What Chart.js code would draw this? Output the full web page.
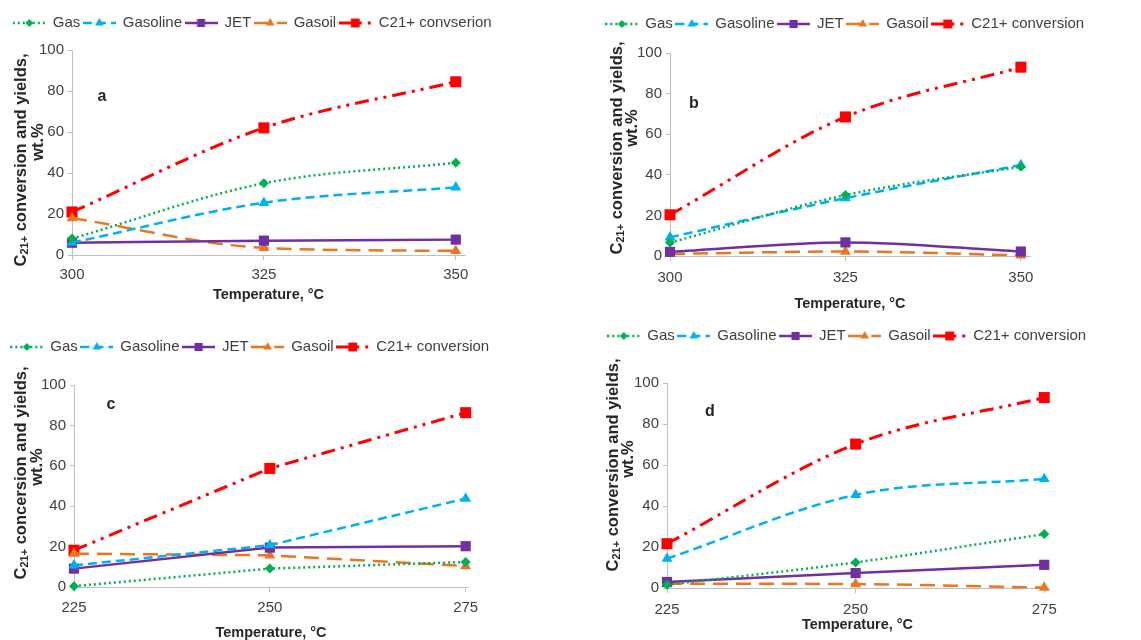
<!DOCTYPE html>
<html>
<head>
<meta charset="utf-8">
<script src="https://cdn.jsdelivr.net/npm/chart.js@4.4.1/dist/chart.umd.min.js"></script>
<style>
  body { margin: 0; background: #fff; width: 1141px; height: 640px; overflow: hidden; position: relative; }
  canvas { position: absolute; }
</style>
</head>
<body>
<canvas id="chartA" width="505" height="320" style="left:0;top:0"></canvas>
<canvas id="chartB" width="550" height="320" style="left:570px;top:0"></canvas>
<canvas id="chartC" width="500" height="330" style="left:0;top:320px"></canvas>
<canvas id="chartD" width="554" height="320" style="left:570px;top:320px"></canvas>
<script>
// temperatures (°C)
const tempsHigh = [300, 325, 350];
const tempsLow = [225, 250, 275];

// series names
const seriesNames = ["Gas", "Gasoline", "JET", "Gasoil"];
const convLabelA = "C21+ convserion";
const convLabel = "C21+ conversion";

// panel a, wt.%
const gasA = [8, 35, 45];
const gasolineA = [6, 25.5, 33];
const jetA = [6, 7, 7.5];
const gasoilA = [18, 3.5, 2];
const convA = [21, 62, 84.5];

// panel b
const gasB = [6.6, 30, 44];
const gasolineB = [9.2, 28.5, 44.8];
const jetB = [2, 6.7, 2.2];
const gasoilB = [1, 2.2, 0.3];
const convB = [20.3, 68.5, 93];

// panel c
const gasC = [0.4, 9.1, 12.4];
const gasolineC = [10.7, 20.7, 43.8];
const jetC = [9.1, 19.5, 20.2];
const gasoilC = [16.5, 15.7, 10.4];
const convC = [18.2, 58.7, 86.3];

// panel d
const gasD = [1.6, 12.5, 26.3];
const gasolineD = [14.3, 45.4, 53.2];
const jetD = [2.9, 7.3, 11.3];
const gasoilD = [2.1, 1.9, 0.2];
const convD = [21.6, 70.2, 92.9];

const yTicks = [0, 20, 40, 60, 80, 100];

const FONT = '"Liberation Sans", Arial, sans-serif';
const styles = [
  { color: "#00B050", dash: [2, 3], point: "rectRot", radius: 5, width: 2.5 },
  { color: "#00B0F0", dash: [9, 5], point: "triangle", radius: 6.3, width: 2.5 },
  { color: "#7030A0", dash: [], point: "rect", radius: 7.2, width: 2.5 },
  { color: "#E87722", dash: [15, 8], point: "triangle", radius: 6.3, width: 2.5 },
  { color: "#FF0000", dash: [14, 6, 3, 6, 3, 6], point: "rect", radius: 7.8, width: 3 },
];

function makeIcon(st) {
  const c = document.createElement("canvas");
  c.width = 33; c.height = 16;
  const g = c.getContext("2d");
  g.strokeStyle = st.color;
  g.lineWidth = st.width;
  g.setLineDash(st.dash);
  g.beginPath(); g.moveTo(0, 8); g.lineTo(33, 8); g.stroke();
  g.setLineDash([]);
  g.fillStyle = st.color;
  Chart.helpers.drawPoint(g, { pointStyle: st.point, radius: st.radius * 0.8, rotation: 0, borderWidth: 0 }, 16.5, 8);
  return c;
}
const icons = styles.map(makeIcon);

// letter and rotated y title, drawn on top
const panelText = {
  id: "panelText",
  afterDraw(chart, args, o) {
    const ctx = chart.ctx;
    ctx.save();
    ctx.fillStyle = "#262626";
    ctx.textBaseline = "middle";
    ctx.textAlign = "center";
    ctx.font = "bold 16px " + FONT;
    ctx.fillText(o.letter, o.letterX, o.letterY);

    const big = "bold 16.5px " + FONT, small = "bold 11px " + FONT;
    ctx.save();
    ctx.translate(o.x1, o.y1);
    ctx.rotate(-Math.PI / 2);
    ctx.font = big;
    const wC = ctx.measureText("C").width;
    const wRest = ctx.measureText(o.rest).width;
    ctx.font = small;
    const wSub = ctx.measureText("21+").width;
    let x = -(wC + wSub + wRest) / 2;
    ctx.textAlign = "left";
    ctx.font = big; ctx.fillText("C", x, 0); x += wC;
    ctx.font = small; ctx.fillText("21+", x, 4); x += wSub;
    ctx.font = big; ctx.fillText(o.rest, x, 0);
    ctx.restore();

    ctx.save();
    ctx.translate(o.x2, o.y2);
    ctx.rotate(-Math.PI / 2);
    ctx.font = big;
    ctx.textAlign = "center";
    ctx.fillText("wt.%", 0, 0);
    ctx.restore();
    ctx.restore();
  },
};

function buildChart(id, temps, series, convName, lay) {
  const names = seriesNames.concat([convName]);
  const datasets = series.map((vals, i) => ({
    label: names[i],
    data: vals,
    borderColor: styles[i].color,
    backgroundColor: styles[i].color,
    borderWidth: styles[i].width,
    borderDash: styles[i].dash,
    pointStyle: styles[i].point,
    pointRadius: styles[i].radius,
    pointBorderWidth: 0,
    cubicInterpolationMode: lay.smooth ? "monotone" : "default",
    tension: 0,
    clip: false,
  }));
  // draw conversion last-ish order like the original (conversion on top)
  return new Chart(document.getElementById(id), {
    type: "line",
    data: { labels: temps, datasets },
    plugins: [panelText],
    options: {
      responsive: false,
      animation: false,
      events: [],
      layout: { padding: { left: 0, right: 0, top: lay.padTop, bottom: 0 } },
      plugins: {
        legend: {
          position: "top",
          weight: 1000,
          labels: {
            usePointStyle: true,
            pointStyleWidth: 32,
            padding: 3,
            font: { size: 15, family: FONT },
            color: "#404040",
            generateLabels: (chart) =>
              chart.data.datasets.map((d, i) => ({
                text: d.label,
                pointStyle: icons[i],
                fillStyle: "rgba(0,0,0,0)",
                strokeStyle: "rgba(0,0,0,0)",
                lineWidth: 0,
                hidden: false,
                datasetIndex: i,
                fontColor: "#404040",
              })),
          },
        },
        title: {
          display: true,
          text: " ",
          weight: 500,
          font: { size: 1, lineHeight: 1 },
          padding: { top: 0, bottom: lay.spacer - 1 },
        },
        tooltip: { enabled: false },
        panelText: lay.text,
      },
      scales: {
        x: {
          type: "linear",
          min: temps[0],
          max: temps[temps.length - 1] + lay.xExtra,
          afterBuildTicks: (s) => { s.ticks = temps.map((v) => ({ value: v })); },
          afterFit: (s) => { s.height = lay.H - lay.B; },
          ticks: { color: "#404040", font: { size: 15, family: FONT }, padding: lay.tickPad, callback: (v) => String(v) },
          grid: { drawOnChartArea: false, drawTicks: true, tickLength: 5, color: "#BFBFBF" },
          border: { color: "#BFBFBF", width: 1 },
          title: {
            display: true,
            text: "Temperature, °C",
            color: "#262626",
            font: { size: 14.5, weight: "bold", family: FONT },
            padding: { top: 0, bottom: lay.titlePadBottom },
          },
        },
        y: {
          min: 0,
          max: 100,
          afterBuildTicks: (s) => { s.ticks = yTicks.map((v) => ({ value: v })); },
          afterFit: (s) => { s.width = lay.L; },
          ticks: { color: "#404040", font: { size: 15, family: FONT }, padding: 4 },
          grid: { drawOnChartArea: false, drawTicks: true, tickLength: 4, color: "#BFBFBF" },
          border: { color: "#BFBFBF", width: 1 },
        },
        spare: {
          type: "linear",
          position: "right",
          display: true,
          grid: { display: false },
          border: { display: false },
          ticks: { display: false },
          afterFit: (s) => { s.width = lay.W - lay.R; },
        },
      },
    },
  });
}

buildChart("chartA", tempsHigh, [gasA, gasolineA, jetA, gasoilA, convA], convLabelA, {
  W: 505, H: 320, L: 72, R: 465, B: 255, padTop: 12.5, spacer: 9.5, xExtra: 1.2,
  tickPad: 6, titlePadBottom: 16.3, smooth: true,
  text: { letter: "a", letterX: 102, letterY: 97, rest: " conversion and yields,", x1: 21, y1: 160, x2: 38, y2: 142 },
});
buildChart("chartB", tempsHigh, [gasB, gasolineB, jetB, gasoilB, convB], convLabel, {
  W: 550, H: 320, L: 100, R: 460, B: 256, padTop: 13.5, spacer: 11.5, xExtra: 1.3,
  tickPad: 8, titlePadBottom: 7.3, smooth: true,
  text: { letter: "b", letterX: 124, letterY: 104, rest: " conversion and yields,", x1: 47, y1: 148, x2: 62, y2: 128 },
});
buildChart("chartC", tempsLow, [gasC, gasolineC, jetC, gasoilC, convC], convLabel, {
  W: 500, H: 330, L: 74, R: 468, B: 267, padTop: 16.5, spacer: 20.5, xExtra: 0.3,
  tickPad: 7, titlePadBottom: 8.3, smooth: false,
  text: { letter: "c", letterX: 111, letterY: 85, rest: " concersion and yields,", x1: 21, y1: 153, x2: 37, y2: 147 },
});
buildChart("chartD", tempsLow, [gasD, gasolineD, jetD, gasoilD, convD], convLabel, {
  W: 554, H: 320, L: 97, R: 478, B: 268, padTop: 5.5, spacer: 29.5, xExtra: 0.5,
  tickPad: 8, titlePadBottom: 6.3, smooth: true,
  text: { letter: "d", letterX: 140, letterY: 92, rest: " conversion and yields,", x1: 43, y1: 145, x2: 58, y2: 139 },
});
</script>
</body>
</html>
